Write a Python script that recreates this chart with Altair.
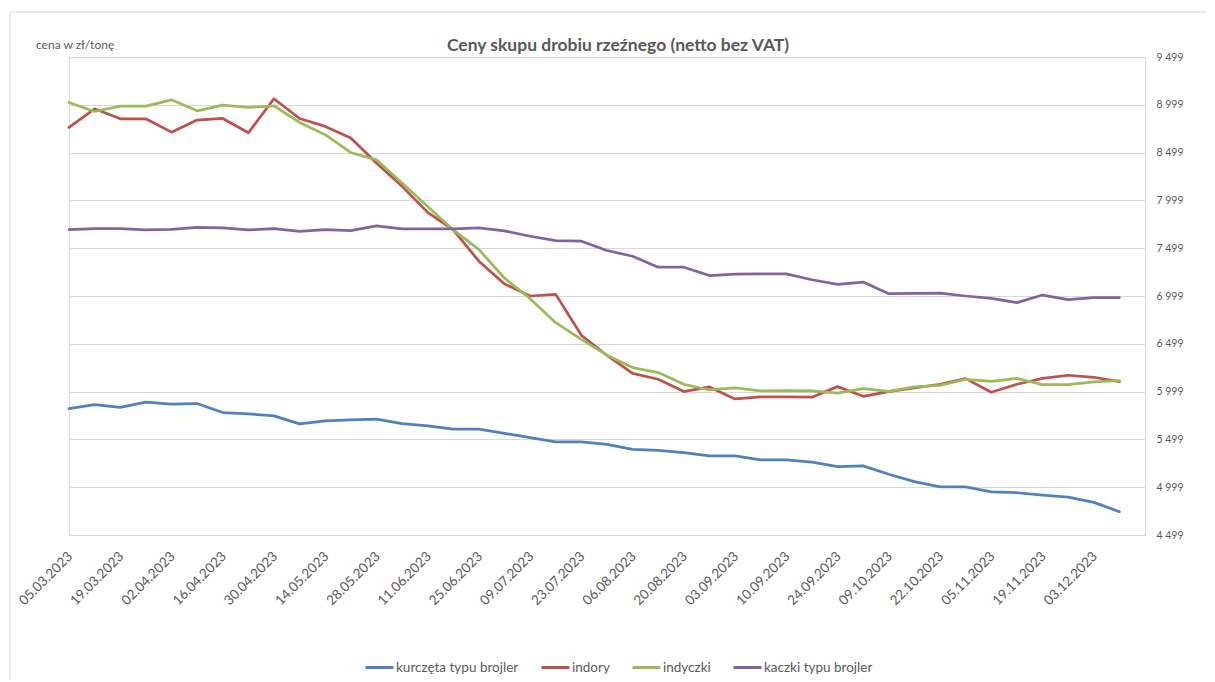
import altair as alt
import pandas as pd

title_text = "Ceny skupu drobiu rzeźnego (netto bez VAT)"
y_unit = "cena w zł/tonę"

categories = [
    "05.03.2023", "12.03.2023", "19.03.2023", "26.03.2023", "02.04.2023", "09.04.2023",
    "16.04.2023", "23.04.2023", "30.04.2023", "07.05.2023", "14.05.2023", "21.05.2023",
    "28.05.2023", "04.06.2023", "11.06.2023", "18.06.2023", "25.06.2023", "02.07.2023",
    "09.07.2023", "16.07.2023", "23.07.2023", "30.07.2023", "06.08.2023", "13.08.2023",
    "20.08.2023", "27.08.2023", "03.09.2023", "06.09.2023", "10.09.2023", "17.09.2023",
    "24.09.2023", "01.10.2023", "09.10.2023", "15.10.2023", "22.10.2023", "29.10.2023",
    "05.11.2023", "12.11.2023", "19.11.2023", "26.11.2023", "03.12.2023", "10.12.2023",
    "17.12.2023",
]

series_names = ["kurczęta typu brojler", "indory", "indyczki", "kaczki typu brojler"]
series_colors = ["#4F81BD", "#C0504D", "#9BBB59", "#8064A2"]

kurczeta = [5822, 5863, 5835, 5888, 5867, 5874, 5780, 5766, 5745, 5661, 5693, 5703, 5710, 5665,
            5640, 5606, 5606, 5562, 5517, 5472, 5472, 5447, 5395, 5384, 5360, 5327, 5327, 5285,
            5285, 5262, 5215, 5222, 5135, 5058, 5003, 5003, 4951, 4941, 4916, 4895, 4840, 4743]
indory = [8762, 8957, 8853, 8853, 8713, 8839, 8856, 8706, 9062, 8856, 8773, 8651, 8390, 8146,
          7874, 7690, 7363, 7125, 6999, 7016, 6588, 6377, 6190, 6128, 5999, 6048, 5922, 5943,
          5943, 5940, 6051, 5950, 5999, 6037, 6076, 6135, 5992, 6076, 6138, 6170, 6149, 6103]
indyczki = [9023, 8929, 8985, 8985, 9051, 8936, 8995, 8971, 8989, 8815, 8686, 8499, 8424, 8180,
            7936, 7690, 7485, 7185, 6971, 6720, 6546, 6380, 6250, 6198, 6076, 6016, 6037, 6006,
            6009, 6006, 5982, 6030, 6002, 6048, 6065, 6128, 6107, 6138, 6072, 6072, 6100, 6114]
kaczki = [7694, 7704, 7704, 7690, 7697, 7718, 7711, 7690, 7704, 7676, 7694, 7683, 7732, 7701,
          7701, 7701, 7711, 7680, 7624, 7579, 7572, 7475, 7415, 7300, 7300, 7213, 7227, 7231,
          7231, 7169, 7121, 7145, 7023, 7027, 7030, 6999, 6975, 6929, 7009, 6961, 6982, 6982]

y_ticks = [4499, 4999, 5499, 5999, 6499, 6999, 7499, 7999, 8499, 8999, 9499]

rows = []
for name, vals in zip(series_names, [kurczeta, indory, indyczki, kaczki]):
    for i, v in enumerate(vals):
        rows.append({"data": categories[i], "cena": v, "seria": name, "idx": i})
df = pd.DataFrame(rows)

FONT = "Lato"
GREY = "#595959"
BORDER = "#D9D9D9"

lines = alt.Chart(df).mark_line(strokeWidth=2.75, strokeCap="round", strokeJoin="round").encode(
    x=alt.X(
        "data:O",
        sort=categories,
        scale=alt.Scale(type="point", padding=0, domain=categories),
        axis=alt.Axis(
            values=categories[0:41:2],
            labelAngle=-45,
            title=None,
            domain=False,
            ticks=False,
            grid=False,
            labelColor=GREY,
            labelFont=FONT,
            labelFontSize=13.5,
            labelPadding=14,
            labelOffset=-4,
        ),
    ),
    y=alt.Y(
        "cena:Q",
        scale=alt.Scale(domain=[4499, 9499], nice=False, zero=False),
        axis=alt.Axis(
            orient="right",
            values=y_ticks,
            title=None,
            domain=False,
            ticks=False,
            gridColor=BORDER,
            gridWidth=1,
            labelColor=GREY,
            labelFont=FONT,
            labelFontSize=10.5,
            labelPadding=11,
            labelExpr="replace(format(datum.value, ','), ',', ' ')",
        ),
    ),
    color=alt.Color(
        "seria:N",
        scale=alt.Scale(domain=series_names, range=series_colors),
        legend=alt.Legend(
            title=None,
            orient="none",
            legendX=295,
            legendY=595,
            direction="horizontal",
            symbolType="stroke",
            symbolStrokeWidth=3,
            symbolSize=780,
            labelFont=FONT,
            labelFontSize=13.5,
            labelColor=GREY,
            labelOffset=1,
            columnPadding=16,
            padding=0,
        ),
    ),
    order="idx:Q",
)

text_df = pd.DataFrame({"t": [y_unit, title_text]})

unit_text = alt.Chart(text_df).transform_filter(alt.datum.t == y_unit).mark_text(
    align="left", baseline="middle", font=FONT, fontSize=12, color=GREY
).encode(text="t:N", x=alt.value(-33), y=alt.value(-12))

title_mark = alt.Chart(text_df).transform_filter(alt.datum.t == title_text).mark_text(
    align="center", baseline="middle", font=FONT, fontSize=17.5, fontWeight="bold", color=GREY
).encode(text="t:N", x=alt.value(549), y=alt.value(-11))

# chart-area border (top and left edges visible in the reference)
frame_df = pd.DataFrame({"edge": ["top", "left"]})
frame_top = alt.Chart(frame_df).transform_filter(alt.datum.edge == "top").mark_rule(
    color=BORDER, strokeWidth=1
).encode(x=alt.value(-59), x2=alt.value(1150), y=alt.value(-45))
frame_left = alt.Chart(frame_df).transform_filter(alt.datum.edge == "left").mark_rule(
    color=BORDER, strokeWidth=1
).encode(x=alt.value(-59), y=alt.value(-45), y2=alt.value(625))

chart = alt.layer(frame_top, frame_left, lines, unit_text, title_mark).properties(
    width=1076,
    height=478,
    padding={"left": 61, "top": 49, "right": 62, "bottom": 145},
    autosize=alt.AutoSizeParams(type="none"),
).configure_view(stroke=None).configure(background="white")

chart.save("out.html", embed_options={"renderer": "svg", "actions": False})
